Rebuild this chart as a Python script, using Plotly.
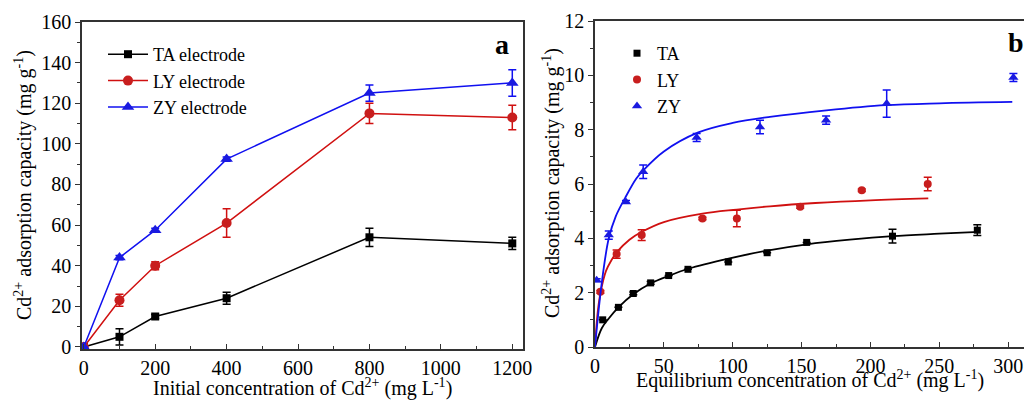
import plotly.graph_objects as go

# ---------------- Panel a data ----------------
a_x = [0, 100, 200, 400, 800, 1200]
a_ta = [0, 5, 15, 24, 54, 51]
a_ta_err = [0, 4, 1, 3, 4.5, 3]
a_ly = [0, 23, 40, 61, 115, 113]
a_ly_err = [0, 3, 2, 7, 5, 6]
a_zy = [0, 44, 57.5, 92.5, 125, 130]
a_zy_err = [0, 1, 1, 1, 4, 6.5]

# ---------------- Panel b data ----------------
b_ta_x = [5.6, 17, 27.8, 40.4, 53.5, 67.5, 96.8, 125, 153.7, 216, 277.6]
b_ta_y = [1.0, 1.46, 1.97, 2.36, 2.63, 2.86, 3.13, 3.47, 3.85, 4.08, 4.3]
b_ta_err = [0, 0, 0.05, 0.05, 0, 0, 0, 0, 0, 0.25, 0.2]
b_ly_x = [3.9, 15.7, 33.9, 78, 103, 149, 193.7, 241.6]
b_ly_y = [2.03, 3.42, 4.12, 4.73, 4.73, 5.16, 5.77, 6.0]
b_ly_err = [0.05, 0.15, 0.2, 0.05, 0.3, 0.05, 0.05, 0.25]
b_zy_x = [1.2, 10, 22.5, 35, 73.8, 119.8, 167.8, 211.8, 303.8]
b_zy_y = [2.46, 4.12, 5.34, 6.45, 7.71, 8.1, 8.35, 8.96, 9.92]
b_zy_err = [0.05, 0.15, 0.05, 0.25, 0.15, 0.25, 0.15, 0.5, 0.15]

# fitted curves
fit_ta_x = [0, 5, 10, 17, 28, 40, 54, 68, 97, 125, 154, 185, 216, 250, 279]
fit_ta_y = [0, 0.7, 1.05, 1.46, 1.95, 2.33, 2.63, 2.88, 3.25, 3.55, 3.78, 3.95, 4.08, 4.17, 4.24]
fit_ly_x = [0, 2, 4, 8, 12, 16, 25, 34, 50, 78, 103, 127, 160, 200, 242]
fit_ly_y = [0, 1.3, 2.0, 2.8, 3.2, 3.5, 3.95, 4.24, 4.6, 4.91, 5.06, 5.18, 5.3, 5.4, 5.47]
fit_zy_x = [0, 5, 10, 15, 22, 30, 35, 50, 75, 100, 127, 168, 211, 250, 303]
fit_zy_y = [0, 2.4, 4.0, 4.8, 5.5, 6.2, 6.5, 7.2, 7.9, 8.25, 8.47, 8.71, 8.9, 8.97, 9.02]

FONT = "Liberation Serif, Times New Roman, DejaVu Serif, serif"
BLACK = "#000000"
RED_L = "#d01010"
RED_M = "#c81e1e"
BLUE_L = "#1010f0"
BLUE_M = "#1a1ae0"

fig = go.Figure()

for name, y, err, lc, mc, sym, s in [
    ("TA electrode", a_ta, a_ta_err, BLACK, BLACK, "square", 8),
    ("LY electrode", a_ly, a_ly_err, RED_L, RED_M, "circle", 10),
    ("ZY electrode", a_zy, a_zy_err, BLUE_L, BLUE_M, "triangle-up", 11),
]:
    fig.add_trace(go.Scatter(
        x=a_x, y=y, name=name, mode="lines+markers",
        line=dict(color=lc, width=1.5),
        marker=dict(symbol=sym, size=s, color=mc),
        error_y=dict(type="data", array=err, visible=True, color=lc, thickness=1.5, width=4),
        xaxis="x", yaxis="y", legend="legend",
    ))

for name, x, y, err, fx, fy, lc, mc, sym, s in [
    ("TA", b_ta_x, b_ta_y, b_ta_err, fit_ta_x, fit_ta_y, BLACK, BLACK, "square", 7),
    ("LY", b_ly_x, b_ly_y, b_ly_err, fit_ly_x, fit_ly_y, RED_L, RED_M, "circle", 8),
    ("ZY", b_zy_x, b_zy_y, b_zy_err, fit_zy_x, fit_zy_y, BLUE_L, BLUE_M, "triangle-up", 9),
]:
    fig.add_trace(go.Scatter(
        x=fx, y=fy, mode="lines", line=dict(color=lc, width=1.8, shape="spline"),
        showlegend=False, xaxis="x2", yaxis="y2", hoverinfo="skip",
    ))
    fig.add_trace(go.Scatter(
        x=x, y=y, name=name, mode="markers",
        marker=dict(symbol=sym, size=s, color=mc),
        error_y=dict(type="data", array=err, visible=True, color=lc, thickness=1.5, width=4),
        xaxis="x2", yaxis="y2", legend="legend2",
    ))

W, H = 1024, 401
tickfont = dict(family=FONT, size=20, color="black")
axline = dict(showline=True, linecolor="#333333", linewidth=1.5, showgrid=False,
              zeroline=False, automargin=False)

fig.update_layout(
    width=W, height=H, margin=dict(l=0, r=0, t=0, b=0, autoexpand=False),
    paper_bgcolor="white", plot_bgcolor="white",
    font=dict(family=FONT, size=20, color="black"),
    xaxis=dict(domain=[82 / W, 523 / W], range=[-5, 1230], anchor="y",
               tickvals=[0, 200, 400, 600, 800, 1000, 1200], ticks="inside", ticklen=5,
               tickcolor="#333333", tickfont=tickfont, mirror=True,
               minor=dict(dtick=100, tick0=0, ticks="inside", ticklen=3, tickcolor="#333333"),
               **axline),
    yaxis=dict(domain=[1 - 349 / H, 1 - 22 / H], range=[-1, 160], anchor="x",
               tickvals=[0, 20, 40, 60, 80, 100, 120, 140, 160], ticks="outside", ticklen=5,
               tickcolor="#333333", tickfont=tickfont, mirror=True,
               minor=dict(dtick=10, tick0=0, ticks="outside", ticklen=3, tickcolor="#333333"),
               **axline),
    xaxis2=dict(domain=[595 / W, 1.0], range=[0, 311.5], anchor="y2",
                tickvals=[0, 50, 100, 150, 200, 250, 300], ticks="inside", ticklen=5,
                tickcolor="#333333", tickfont=tickfont, mirror=True,
                minor=dict(dtick=25, tick0=0, ticks="inside", ticklen=3, tickcolor="#333333"),
                **axline),
    yaxis2=dict(domain=[1 - 347 / H, 1 - 21 / H], range=[0, 12], anchor="x2",
                tickvals=[0, 2, 4, 6, 8, 10, 12], ticks="outside", ticklen=5,
                tickcolor="#333333", tickfont=tickfont, mirror=False,
                minor=dict(dtick=1, tick0=0, ticks="outside", ticklen=3, tickcolor="#333333"),
                **axline),
    legend=dict(x=103 / W, y=1 - 36 / H, xanchor="left", yanchor="top",
                font=dict(family=FONT, size=18), bgcolor="rgba(0,0,0,0)",
                tracegroupgap=0, itemwidth=40),
    legend2=dict(x=617 / W, y=1 - 35 / H, xanchor="left", yanchor="top",
                 font=dict(family=FONT, size=18), bgcolor="rgba(0,0,0,0)",
                 tracegroupgap=0),
    showlegend=True,
)

ann = []
ann.append(dict(text="Initial concentration of Cd<sup>2+</sup> (mg L<sup>-1</sup>)",
                x=302 / W, y=1 - 402 / H, xref="paper", yref="paper",
                xanchor="center", yanchor="bottom",
                showarrow=False, font=dict(family=FONT, size=20)))
ann.append(dict(text="Equilibrium concentration of Cd<sup>2+</sup> (mg L<sup>-1</sup>)",
                x=810 / W, y=1 - 394 / H, xref="paper", yref="paper",
                xanchor="center", yanchor="bottom",
                showarrow=False, font=dict(family=FONT, size=20)))
ann.append(dict(text="Cd<sup>2+</sup> adsorption capacity (mg g<sup>-1</sup>)",
                x=23 / W, y=1 - 185 / H, xref="paper", yref="paper", textangle=-90,
                xanchor="center", yanchor="middle",
                showarrow=False, font=dict(family=FONT, size=20)))
ann.append(dict(text="Cd<sup>2+</sup> adsorption capacity (mg g<sup>-1</sup>)",
                x=551 / W, y=1 - 183 / H, xref="paper", yref="paper", textangle=-90,
                xanchor="center", yanchor="middle",
                showarrow=False, font=dict(family=FONT, size=20)))
ann.append(dict(text="<b>a</b>", x=502 / W, y=1 - 44 / H, xref="paper", yref="paper",
                xanchor="center", yanchor="middle",
                showarrow=False, font=dict(family=FONT, size=28)))
ann.append(dict(text="<b>b</b>", x=1006 / W, y=1 - 43 / H, xref="paper", yref="paper",
                xanchor="left", yanchor="middle", showarrow=False,
                font=dict(family=FONT, size=28)))
fig.update_layout(annotations=ann)

fig.write_html("out.html")
